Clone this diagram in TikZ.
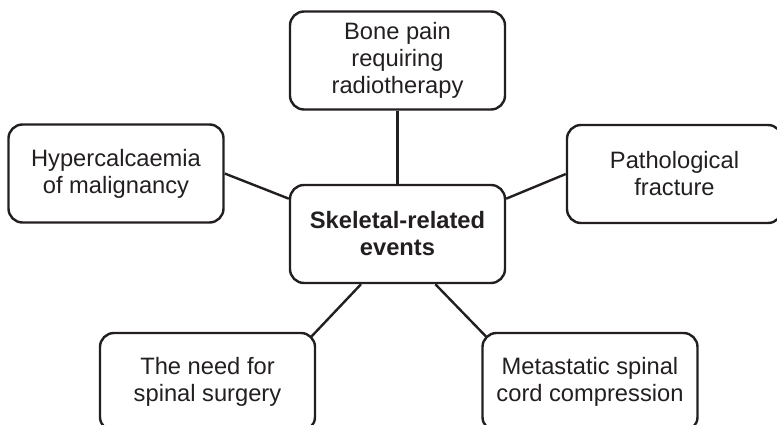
\documentclass[tikz,border=0pt]{standalone}
\usepackage{fontspec}
\setmainfont{Liberation Sans}
\usetikzlibrary{calc}
\definecolor{Ink}{HTML}{231F20}

\begin{document}
\begin{tikzpicture}[x=1pt,y=-1pt,line width=2.4pt,draw=Ink,text=Ink,
    evt/.style={draw=Ink,rounded corners=14pt,align=center,minimum width=215pt,minimum height=98pt,inner sep=0pt,font=\fontsize{23.7}{27}\selectfont}]
        \useasboundingbox (0,0) rectangle (777,425);
        \clip (0,0) rectangle (777,425);
        \node[evt] (bone) at (397.5,60.5) {Bone pain\\requiring\\radiotherapy};
        \node[evt] (hyper) at (116,173.5) {Hypercalcaemia\\of malignancy};
        \node[evt] (fract) at (674.5,174) {Pathological\\fracture};
        \node[evt,font=\fontsize{23.7}{27}\selectfont\bfseries] (sre) at (397.5,234) {Skeletal-related\\events};
        \node[evt] (surg) at (207.5,382) {The need for\\spinal surgery};
        \node[evt] (mscc) at (590,382) {Metastatic spinal\\cord compression};
        \draw (bone)--(sre);\draw (hyper.east)--(sre.162);\draw (sre.18)--(fract.west);
        \draw (sre.234)--($(surg.north east)+(-5,5)$);\draw (sre.307)--($(mscc.north west)+(5,5)$);
      \end{tikzpicture}
\end{document}
